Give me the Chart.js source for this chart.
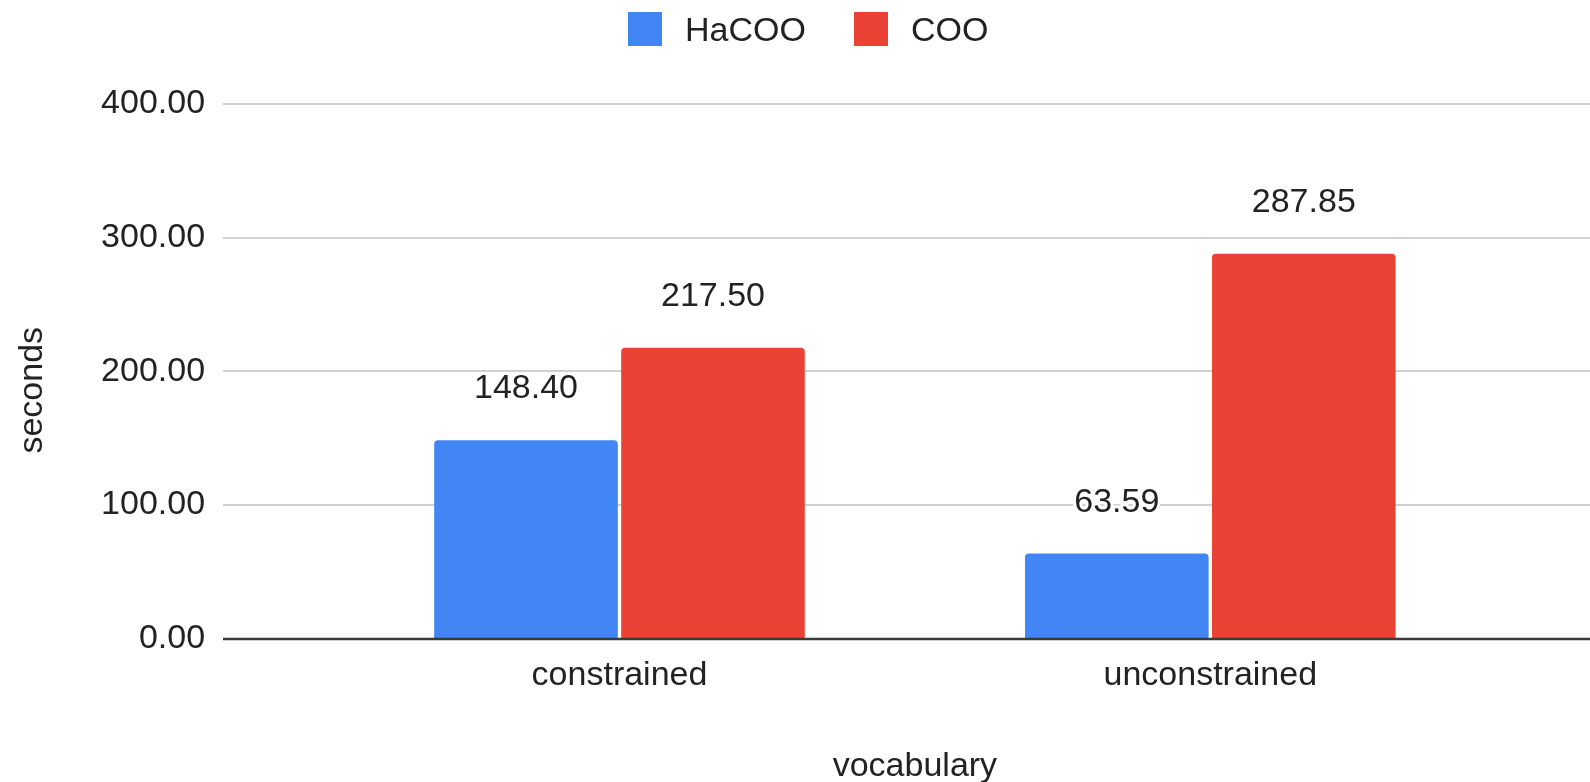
<!DOCTYPE html>
<html>
<head>
<meta charset="utf-8">
<script src="https://cdn.jsdelivr.net/npm/chart.js@4.4.1/dist/chart.umd.min.js"></script>
<style>
  html, body { margin: 0; padding: 0; background: #fff; }
  #wrap { position: relative; width: 1590px; height: 782px; }
  #legend {
    position: absolute; top: 12px; left: 628px;
    display: flex; align-items: center;
    font: 34px "Liberation Sans", Arial, sans-serif; color: #222;
  }
  #legend .item { display: flex; align-items: center; margin-right: 48px; line-height: 34px; }
  #legend .swatch { display: inline-block; width: 34px; height: 34px; margin-right: 23px; }
</style>
</head>
<body>
<div id="wrap">
  <canvas id="chart"></canvas>
  <div id="legend"></div>
</div>
<script>
const categories = ['constrained', 'unconstrained'];
const seriesNames = ['HaCOO', 'COO'];
const hacooSeconds = [148.40, 63.59];
const cooSeconds = [217.50, 287.85];
const yTickValues = [0, 100, 200, 300, 400];

const FONT_FAMILY = '"Liberation Sans", Arial, sans-serif';
const FONT_SIZE = 34;
const TEXT_COLOR = '#222';
const font = { family: FONT_FAMILY, size: FONT_SIZE };

// legend lives in the page, built from the chart's own legend items
const htmlLegend = {
  id: 'htmlLegend',
  afterUpdate(chart) {
    const box = document.getElementById('legend');
    box.innerHTML = '';
    chart.options.plugins.legend.labels.generateLabels(chart).forEach(item => {
      const row = document.createElement('div');
      row.className = 'item';
      const swatch = document.createElement('span');
      swatch.className = 'swatch';
      swatch.style.background = item.fillStyle;
      const label = document.createElement('span');
      label.textContent = item.text;
      row.append(swatch, label);
      box.append(row);
    });
  }
};

// horizontal rules run past the plot on both sides; zero line drawn over the bars
const gridRules = {
  id: 'gridRules',
  beforeDatasetsDraw(chart, args, opts) {
    const { ctx, scales: { y } } = chart;
    ctx.save();
    ctx.strokeStyle = opts.color;
    ctx.lineWidth = 2;
    y.ticks.forEach(t => {
      if (t.value === 0) return;
      const py = Math.round(y.getPixelForValue(t.value));
      ctx.beginPath();
      ctx.moveTo(opts.left, py);
      ctx.lineTo(chart.width, py);
      ctx.stroke();
    });
    ctx.restore();
  },
  afterDatasetsDraw(chart, args, opts) {
    const { ctx, scales: { y } } = chart;
    const py = Math.round(y.getPixelForValue(0));
    ctx.save();
    ctx.strokeStyle = opts.baseColor;
    ctx.lineWidth = 2.5;
    ctx.beginPath();
    ctx.moveTo(opts.left, py);
    ctx.lineTo(chart.width, py);
    ctx.stroke();
    ctx.restore();
  }
};

const valueLabels = {
  id: 'valueLabels',
  afterDatasetsDraw(chart, args, opts) {
    const { ctx } = chart;
    ctx.save();
    ctx.font = `${FONT_SIZE}px ${FONT_FAMILY}`;
    ctx.textAlign = 'center';
    ctx.textBaseline = 'alphabetic';
    ctx.lineJoin = 'round';
    chart.data.datasets.forEach((ds, i) => {
      chart.getDatasetMeta(i).data.forEach((bar, j) => {
        const text = ds.data[j].toFixed(2);
        const ty = bar.y - opts.gap;
        ctx.lineWidth = 6;
        ctx.strokeStyle = '#fff';
        ctx.strokeText(text, bar.x, ty);
        ctx.fillStyle = TEXT_COLOR;
        ctx.fillText(text, bar.x, ty);
      });
    });
    ctx.restore();
  }
};

// rotated y-axis title, sitting a little below the middle of the plot
const sideTitle = {
  id: 'sideTitle',
  afterDraw(chart, args, opts) {
    const { ctx, chartArea } = chart;
    ctx.save();
    ctx.translate(opts.x, (chartArea.top + chartArea.bottom) / 2 + opts.shift);
    ctx.rotate(-Math.PI / 2);
    ctx.font = `${FONT_SIZE}px ${FONT_FAMILY}`;
    ctx.fillStyle = TEXT_COLOR;
    ctx.textAlign = 'center';
    ctx.textBaseline = 'middle';
    ctx.fillText(opts.text, 0, 0);
    ctx.restore();
  }
};

new Chart(document.getElementById('chart'), {
  type: 'bar',
  data: {
    labels: categories,
    datasets: [
      { label: seriesNames[0], data: hacooSeconds, backgroundColor: '#4285F4' },
      { label: seriesNames[1], data: cooSeconds, backgroundColor: '#EA4335' }
    ]
  },
  options: {
    responsive: true,
    maintainAspectRatio: false,
    animation: false,
    devicePixelRatio: 1,
    layout: { padding: { top: 104, right: 84.3, bottom: 0, left: 0 } },
    datasets: {
      bar: { categoryPercentage: 0.633, barPercentage: 0.982, borderRadius: 4 }
    },
    scales: {
      x: {
        grid: { display: false, drawTicks: false },
        border: { display: false },
        ticks: { padding: 17, color: TEXT_COLOR, font },
        title: {
          display: true,
          text: 'vocabulary',
          color: TEXT_COLOR,
          font,
          padding: { top: 0, bottom: -5 }
        },
        afterFit: s => { s.height = 143.5; }
      },
      y: {
        min: 0,
        max: 400,
        afterBuildTicks: s => { s.ticks = yTickValues.map(v => ({ value: v })); },
        // wide label gutter; the big tick padding should not push the plot down
        afterFit: s => {
          s.width = 324.1;
          s.paddingTop = 0;
          s.paddingBottom = 0;
        },
        grid: { display: false, drawTicks: false },
        border: { display: false },
        ticks: {
          padding: 119,
          color: TEXT_COLOR,
          font,
          callback: v => v.toFixed(2)
        }
      }
    },
    plugins: {
      legend: { display: false },
      tooltip: { enabled: false },
      gridRules: { left: 223, color: '#d0d0d0', baseColor: '#3a3a3a' },
      valueLabels: { gap: 42 },
      sideTitle: { text: 'seconds', x: 33, shift: 19 }
    }
  },
  plugins: [htmlLegend, gridRules, valueLabels, sideTitle]
});
</script>
</body>
</html>
